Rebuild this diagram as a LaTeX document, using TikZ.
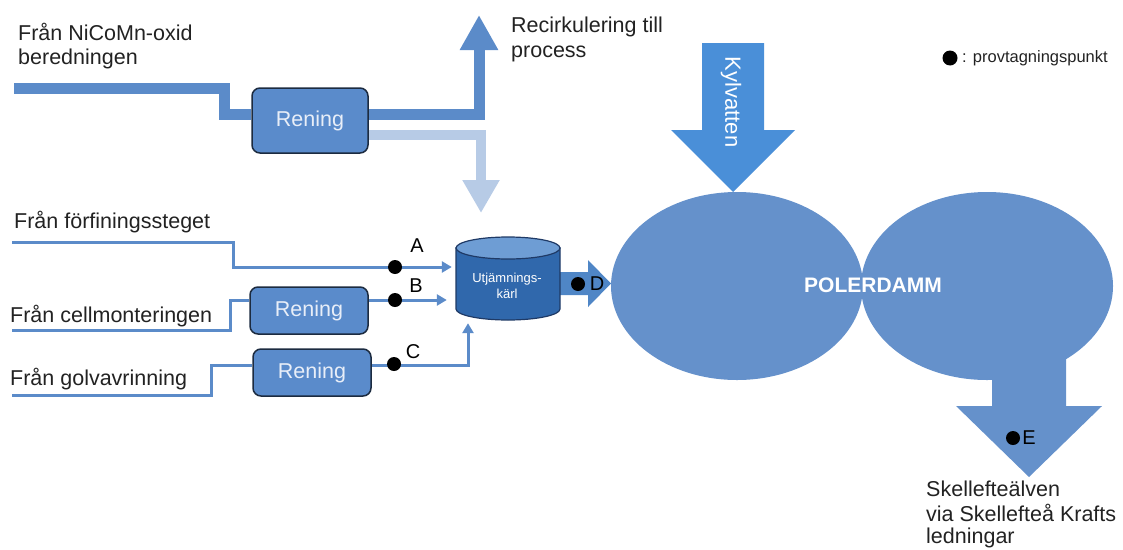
\documentclass[tikz,border=0pt]{standalone}
\usepackage{fontspec}
\setmainfont{Liberation Sans}
\usetikzlibrary{arrows.meta}
\definecolor{pipec}{HTML}{5B8BC9}
\definecolor{lightpipe}{HTML}{B7CBE6}
\definecolor{boxfill}{HTML}{5A8BCB}
\definecolor{boxline}{HTML}{1C2B40}
\definecolor{boxtext}{HTML}{E8EEF8}
\definecolor{txtc}{HTML}{222222}
\definecolor{damc}{HTML}{6591CB}
\definecolor{kylc}{HTML}{4A8FD8}
\definecolor{darrc}{HTML}{4F86C6}
\definecolor{cylbody}{HTML}{3068AC}
\definecolor{cyltop}{HTML}{6E9DD4}
\definecolor{cylline}{HTML}{1F3A66}
\begin{document}
\begin{tikzpicture}[x=1pt,y=-1pt,
  txt/.style={font=\fontsize{21.5}{25}\selectfont, text=txtc, inner sep=0pt},
  lbl/.style={font=\fontsize{20}{24}\selectfont, text=black, inner sep=0pt},
  reningbox/.style={draw=boxline, fill=boxfill, line width=1.5pt, rounded corners=8pt,
     minimum width=117pt, minimum height=66pt, text=boxtext, font=\fontsize{21.5}{25}\selectfont},
  thickpipe/.style={line width=11pt, draw=pipec, line join=miter, line cap=butt},
  thinpipe/.style={line width=3pt, draw=pipec, line join=miter, line cap=butt},
  thinarrow/.style={thinpipe, -{Triangle[width=11pt,length=10pt]}},
  dot/.style={circle, fill=black, inner sep=0pt, minimum size=14pt}]
\useasboundingbox (0,0) rectangle (1123,549);

% ---------- texts ----------
\node[txt, anchor=base west] (t1a) at (18,40) {Från NiCoMn-oxid};
\node[txt, anchor=base west] (t1b) at (18,64) {beredningen};
\node[txt, anchor=base west] (t2a) at (511,32) {Recirkulering till};
\node[txt, anchor=base west] (t2b) at (511,57) {process};
\node[txt, anchor=base west] (t3) at (14,228) {Från förfiningssteget};
\node[txt, anchor=base west] (t4) at (10,322) {Från cellmonteringen};
\node[txt, anchor=base west] (t5) at (10,385) {Från golvavrinning};
\node[txt, anchor=base west] (t6a) at (926,496) {Skellefteälven};
\node[txt, anchor=base west] (t6b) at (926,521) {via Skellefteå Krafts};
\node[txt, anchor=base west] (t6c) at (926,543) {ledningar};

% ---------- legend ----------
\node[dot, minimum size=15pt] (legdot) at (950,58) {};
\node[anchor=west, inner sep=0pt, text=txtc, font=\fontsize{16.5}{19}\selectfont] (legtxt) at (962,58) {: provtagningspunkt};

% ---------- Rening boxes ----------
\node[reningbox, minimum width=116pt, minimum height=65pt] (r1) at (310,120.5) {Rening};
\node[reningbox, minimum width=118pt, minimum height=47pt] (r2) at (309,310.5) {Rening};
\node[reningbox, minimum width=118pt, minimum height=47pt] (r3) at (312,372.5) {Rening};

% ---------- top pipes ----------
\coordinate (src1) at (14,88);
\draw[thickpipe] (src1) -- (224,88) -- (224,114) -- (r1.west |- 0,114);
\coordinate (recirc) at (479,15);
\draw[thickpipe, -{Triangle[width=36pt,length=35pt]}] (r1.east |- 0,114) -- (479,114) -- (recirc);
\coordinate (down1) at (481,213);
\draw[line width=10pt, draw=lightpipe, line join=miter, line cap=butt, -{Triangle[width=35pt,length=33pt]}]
  (r1.east |- 0,135) -- (481,135) -- (down1);

% ---------- D arrow ----------
\fill[darrc] (560,272) -- (588,272) -- (588,260) -- (611,283.5) -- (588,307) -- (588,295) -- (560,295) -- cycle;

% ---------- cylinder ----------
\node[minimum width=104pt, minimum height=82pt, inner sep=0pt] (cylbox) at (508,279) {};
\filldraw[fill=cylbody, draw=cylline, line width=1.2pt]
  (456,248) -- (456,309) arc[start angle=180, end angle=0, x radius=52, y radius=11] -- (560,248) -- cycle;
\filldraw[fill=cyltop, draw=cylline, line width=1.2pt] (508,248) ellipse[x radius=52, y radius=11];
\node[text=white, align=center, font=\fontsize{13}{16}\selectfont, inner sep=0pt] (cyl) at (507,286) {Utjämnings-\\kärl};

% ---------- thin inflows ----------
\coordinate (srcA) at (12,242);
\draw[thinarrow] (srcA) -- (233,242) -- (233,267) -- ([xshift=-4pt]cylbox.west |- 0,267);
\coordinate (srcB) at (12,330);
\draw[thinpipe] (srcB) -- (230,330) -- (230,300) -- (r2.west |- 0,300);
\draw[thinarrow] (r2.east |- 0,300) -- ([xshift=-9pt]cylbox.west |- 0,300);
\coordinate (srcC) at (12,395);
\draw[thinpipe] (srcC) -- (211,395) -- (211,365) -- (r3.west |- 0,365);
\draw[thinarrow] (r3.east |- 0,365) -- (468,365) -- ([xshift=-40pt,yshift=-3pt]cylbox.south);

% ---------- sample points ----------
\node[dot] (dA) at (395,267) {};
\node[lbl] (lA) at (417,246) {A};
\node[dot] (dB) at (395,300) {};
\node[lbl] (lB) at (416,286) {B};
\node[dot] (dC) at (394,364) {};
\node[lbl] (lC) at (413,352) {C};

% ---------- Kylvatten ----------
\fill[kylc] (702,43) -- (764,43) -- (764,130) -- (795,130) -- (733,192) -- (671,130) -- (702,130) -- cycle;
\node[rotate=-90, text=white, font=\fontsize{22}{26}\selectfont, inner sep=0pt] (kyl) at (731,102) {Kylvatten};

% ---------- Polerdamm ----------
\fill[damc] (992,330) -- (1066,330) -- (1066,406) -- (1102,406) -- (1029,477) -- (956,406) -- (992,406) -- cycle;
\fill[damc] (737,286) ellipse[x radius=126, y radius=94];
\fill[damc] (987,286) ellipse[x radius=126, y radius=94];
\node[text=white, font=\bfseries\fontsize{21}{25}\selectfont, inner sep=0pt] (pd) at (873,285) {POLERDAMM};

% D and E points
\node[dot] (dD) at (578,284) {};
\node[lbl] (lD) at (597,284) {D};
\node[dot] (dE) at (1013,438) {};
\node[lbl] (lE) at (1029,438) {E};
\end{tikzpicture}
\end{document}
